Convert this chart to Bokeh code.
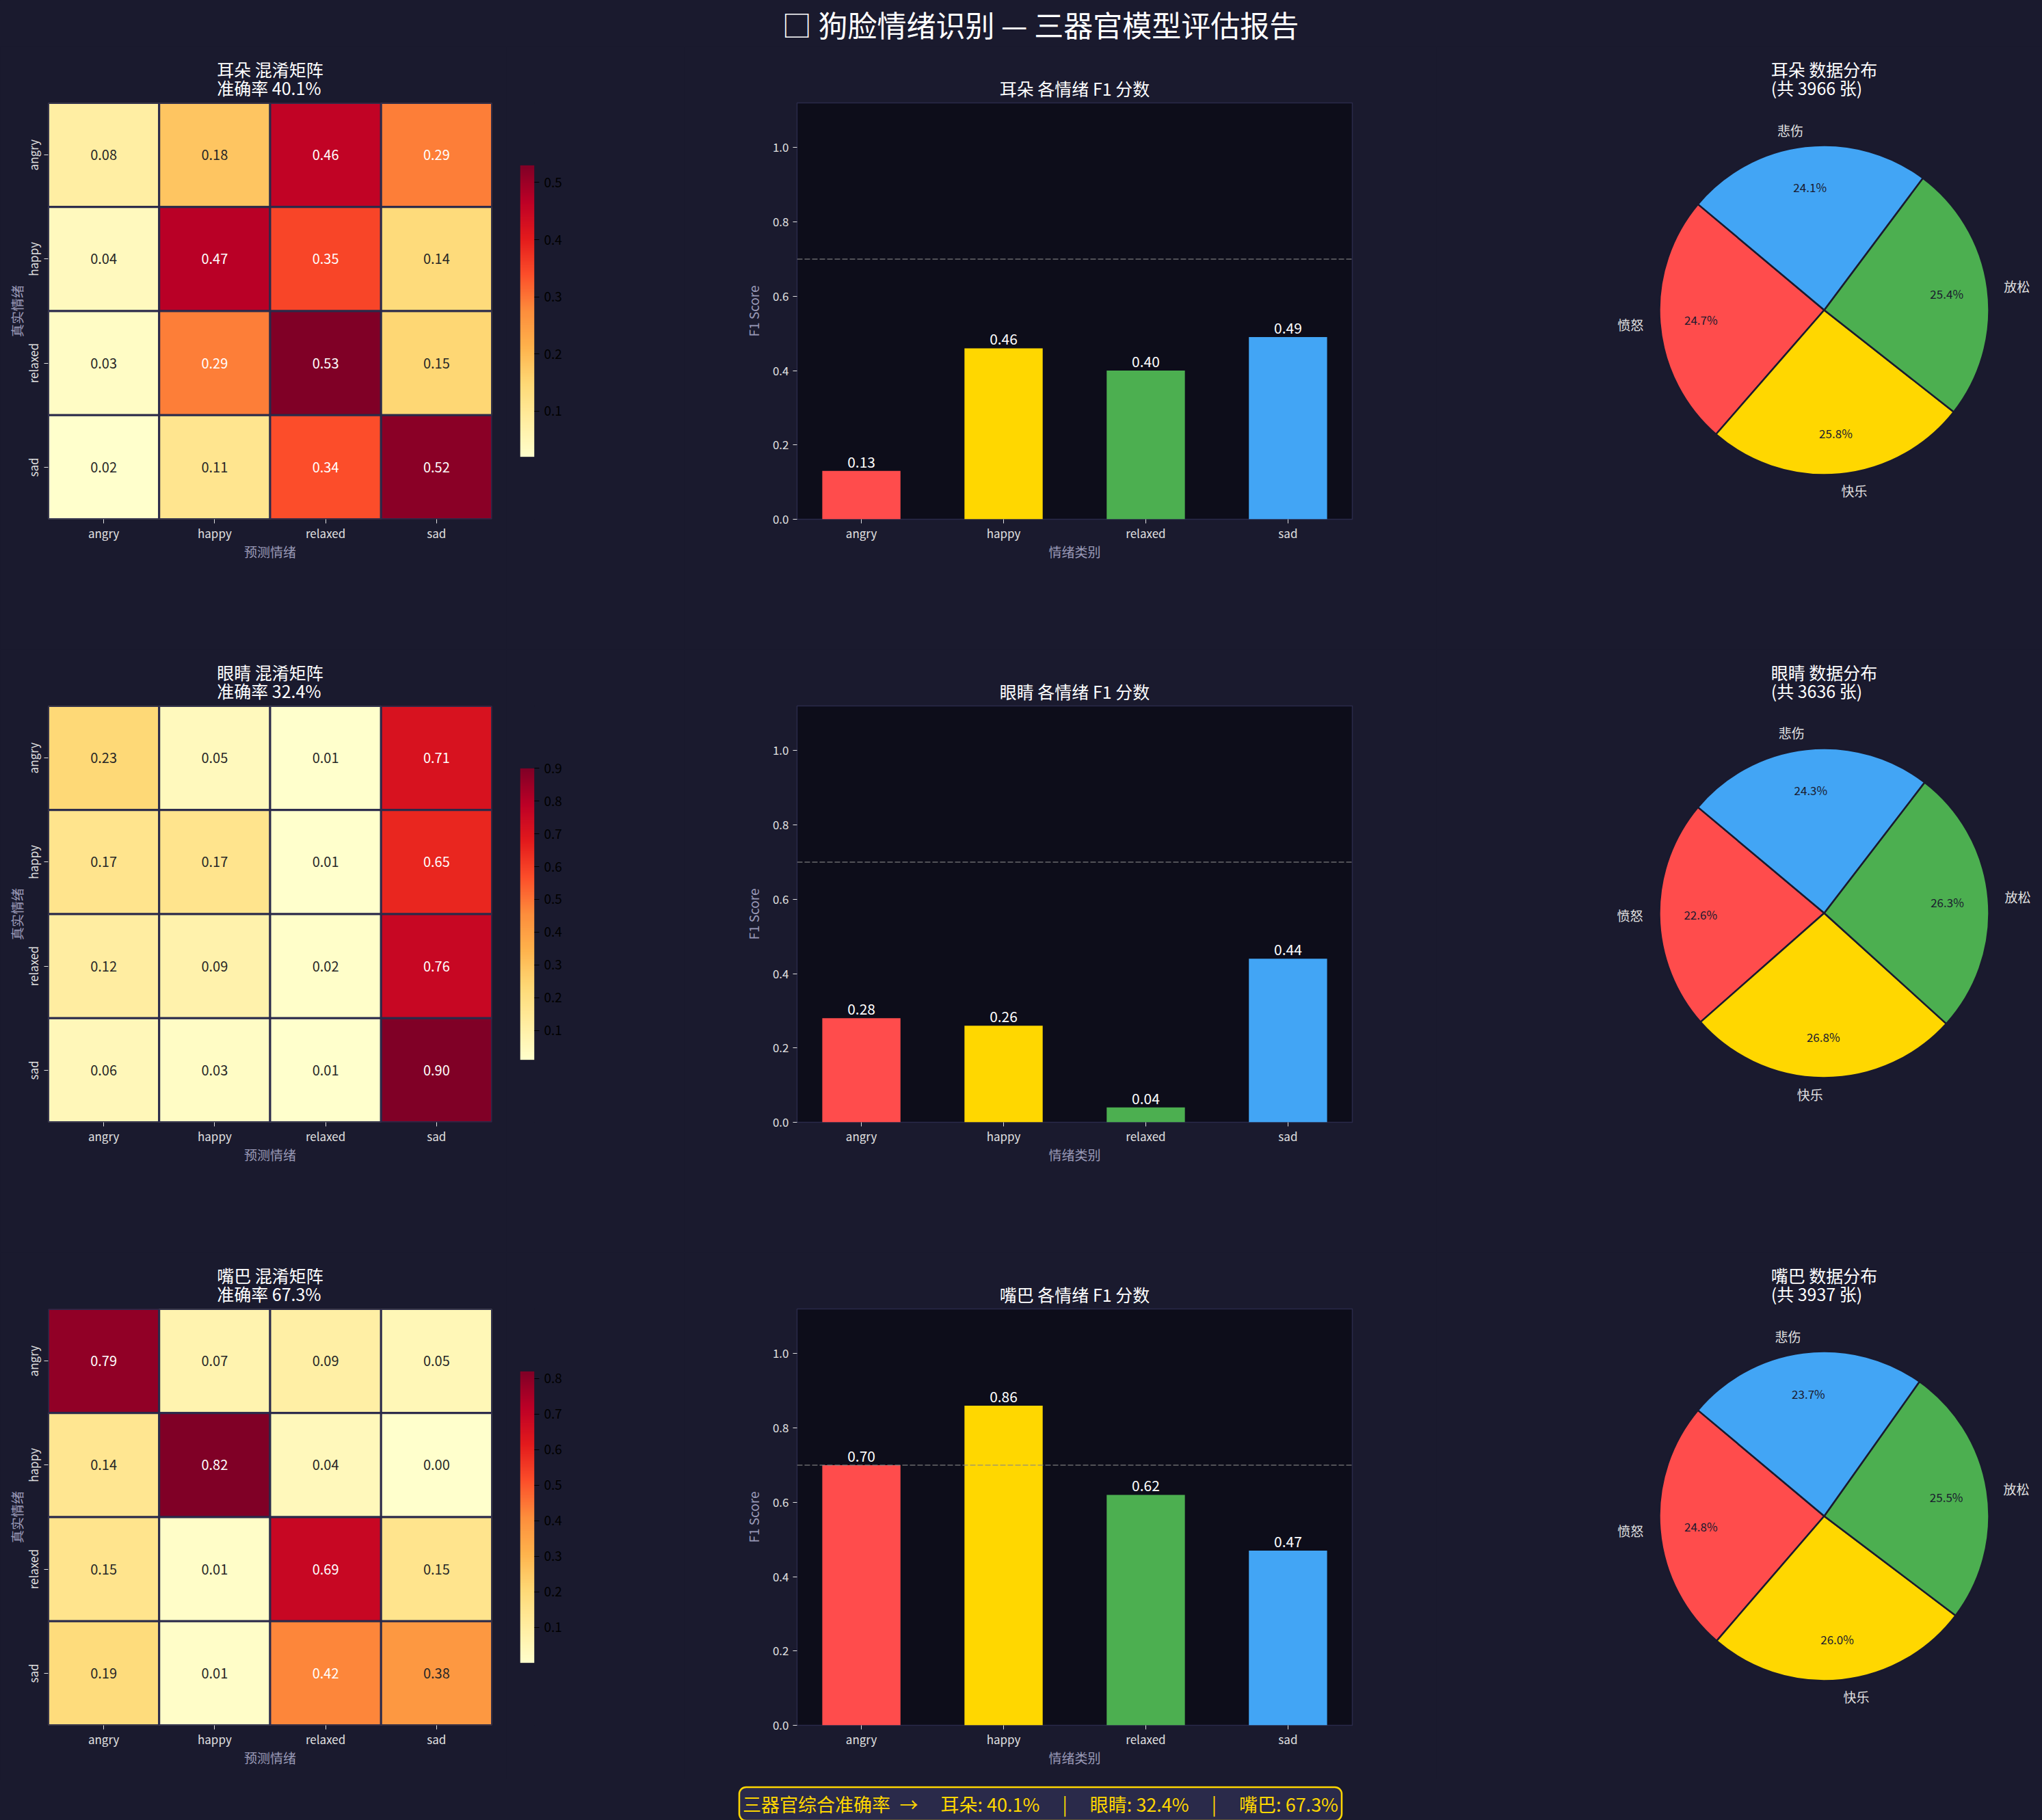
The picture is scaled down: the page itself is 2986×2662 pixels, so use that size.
import numpy as np
from bokeh.plotting import figure
from bokeh.layouts import column, row
from bokeh.models import (FactorRange, Range1d, LinearColorMapper, ColumnDataSource,
                          FixedTicker, PrintfTickFormatter, Span, Label)
from bokeh.core.properties import value
from bokeh.embed import file_html
from bokeh.resources import INLINE

FONT = "Noto Sans CJK SC"
BG = "#1a1a2e"
AX_BG = "#0d0d1a"
EDGE = "#2a2a4a"
TICK = "#e0e0e0"
MUTED = "#9a9ab8"

# ---- data -------------------------------------------------------------
emotions = ["angry", "happy", "relaxed", "sad"]
emotions_cn = ["愤怒", "快乐", "放松", "悲伤"]
emotion_colors = ["#FF4C4C", "#FFD700", "#4CAF50", "#42A5F5"]
organs = ["耳朵", "眼睛", "嘴巴"]
accuracy = [40.1, 32.4, 67.3]

# normalised confusion matrices (rows = true, cols = predicted)
cm_ear = [[0.08, 0.18, 0.46, 0.29],
          [0.04, 0.47, 0.35, 0.14],
          [0.03, 0.29, 0.53, 0.15],
          [0.02, 0.11, 0.34, 0.52]]
cm_eye = [[0.23, 0.05, 0.01, 0.71],
          [0.17, 0.17, 0.01, 0.65],
          [0.12, 0.09, 0.02, 0.76],
          [0.06, 0.03, 0.01, 0.90]]
cm_mouth = [[0.79, 0.07, 0.09, 0.05],
            [0.14, 0.82, 0.04, 0.00],
            [0.15, 0.01, 0.69, 0.15],
            [0.19, 0.01, 0.42, 0.38]]

f1_ear = [0.13, 0.46, 0.40, 0.49]
f1_eye = [0.28, 0.26, 0.04, 0.44]
f1_mouth = [0.70, 0.86, 0.62, 0.47]

count_ear = [980, 1023, 1007, 956]
count_eye = [822, 974, 956, 884]
count_mouth = [976, 1024, 1004, 933]

f1_threshold = 0.7

# ---- YlOrRd colour ramp -------------------------------------------------
YLORRD9 = ["#ffffcc", "#ffeda0", "#fed976", "#feb24c", "#fd8d3c",
           "#fc4e2a", "#e31a1c", "#bd0026", "#800026"]


def _rgb(h):
    h = h.lstrip("#")
    return [int(h[i:i + 2], 16) for i in (0, 2, 4)]


_anchors = np.array([_rgb(c) for c in YLORRD9], dtype=float)
_t = np.linspace(0, 1, 256)
_pos = np.linspace(0, 1, len(YLORRD9))
_ramp = np.stack([np.interp(_t, _pos, _anchors[:, k]) for k in range(3)], axis=1)
PALETTE = ["#%02x%02x%02x" % tuple(int(round(c)) for c in rgb) for rgb in _ramp]


def _lum(rgb):
    c = np.asarray(rgb, dtype=float) / 255.0
    c = np.where(c <= 0.03928, c / 12.92, ((c + 0.055) / 1.055) ** 2.4)
    return 0.2126 * c[0] + 0.7152 * c[1] + 0.0722 * c[2]


def style_common(p):
    p.background_fill_color = BG
    p.border_fill_color = BG
    p.outline_line_color = None
    p.xgrid.visible = False
    p.ygrid.visible = False


def style_title(p, text):
    p.title.text = text
    p.title.align = "center"
    p.title.text_color = "white"
    p.title.text_font = FONT
    p.title.text_font_size = "25px"
    p.title.text_font_style = "normal"
    p.title.text_line_height = 0.76
    p.title.standoff = 8


def style_axis(ax):
    ax.axis_line_color = None
    ax.major_tick_out = 6
    ax.major_tick_in = 0
    ax.major_tick_line_color = TICK
    ax.minor_tick_line_color = None
    ax.major_label_text_color = TICK
    ax.major_label_text_font = FONT
    ax.major_label_text_font_size = "17px"
    ax.axis_label_text_color = MUTED
    ax.axis_label_text_font = FONT
    ax.axis_label_text_font_size = "19px"
    ax.axis_label_text_font_style = "normal"


FRAME_TOP = 82
FRAME_H = 609


def heatmap(organ, acc, cm, height):
    cm = np.asarray(cm, dtype=float)
    lo, hi = cm.min(), cm.max()
    mapper = LinearColorMapper(palette=PALETTE, low=lo, high=hi)
    pred, true, vals, labels, tcol = [], [], [], [], []
    for i, t in enumerate(emotions):
        for j, pr in enumerate(emotions):
            v = cm[i, j]
            k = int(np.clip((v - lo) / (hi - lo) * 256, 0, 255))
            pred.append(pr)
            true.append(t)
            vals.append(v)
            labels.append(f"{v:.2f}")
            tcol.append("#262626" if _lum(_ramp[k]) > 0.408 else "#ffffff")
    src = ColumnDataSource(dict(pred=pred, true=true, v=vals, label=labels, tc=tcol))
    p = figure(width=740, height=height,
               x_range=FactorRange(*emotions), y_range=FactorRange(*emotions[::-1]),
               min_border_left=70, min_border_right=21, min_border_top=FRAME_TOP,
               min_border_bottom=height - FRAME_TOP - FRAME_H,
               toolbar_location=None, output_backend="svg")
    style_common(p)
    style_title(p, f"{organ} 混淆矩阵\n准确率 {acc}%")
    p.rect(x="pred", y="true", width=1, height=1, source=src,
           fill_color={"field": "v", "transform": mapper},
           line_color=EDGE, line_width=3)
    p.text(x="pred", y="true", text="label", source=src, text_color="tc",
           text_align="center", text_baseline="middle",
           text_font=value(FONT), text_font_size="20px")
    style_axis(p.xaxis)
    style_axis(p.yaxis)
    p.xaxis.axis_label = "预测情绪"
    p.yaxis.axis_label = "真实情绪"
    p.xaxis.major_label_standoff = 1
    p.xaxis.axis_label_standoff = -2
    p.yaxis.major_label_orientation = "vertical"
    p.yaxis.major_label_standoff = 4
    p.yaxis.axis_label_standoff = -5
    return p


def colorbar(cm, height):
    # the gradient fills the middle 70% of a frame that lines up with the heatmap
    cm = np.asarray(cm, dtype=float)
    lo, hi = cm.min(), cm.max()
    mapper = LinearColorMapper(palette=PALETTE, low=lo, high=hi)
    shrink = 0.7
    extra = (hi - lo) * (1 - shrink) / 2 / shrink
    p = figure(width=260, height=height, x_range=Range1d(0, 1),
               y_range=Range1d(lo - extra, hi + extra),
               x_axis_location=None, y_axis_location="right",
               min_border_left=20, min_border_right=219, min_border_top=FRAME_TOP,
               min_border_bottom=height - FRAME_TOP - FRAME_H,
               toolbar_location=None, output_backend="svg")
    style_common(p)
    p.image(image=[np.linspace(lo, hi, 256).reshape(256, 1)], x=0, y=lo, dw=1, dh=hi - lo,
            color_mapper=mapper)
    ticks = [round(0.1 * k, 1) for k in range(1, 10) if lo <= 0.1 * k <= hi + 1e-9]
    ax = p.yaxis
    ax.ticker = FixedTicker(ticks=ticks)
    ax.formatter = PrintfTickFormatter(format="%.1f")
    ax.axis_line_color = None
    ax.major_tick_out = 7
    ax.major_tick_in = 0
    ax.major_tick_line_color = "#000000"
    ax.minor_tick_line_color = None
    ax.major_label_text_color = "#000000"
    ax.major_label_text_font = FONT
    ax.major_label_text_font_size = "19px"
    ax.major_label_standoff = 7
    return p


def f1_bars(organ, f1, height):
    n = len(emotions)
    width = 0.55
    pad = 0.05 * (n - 1 + width)
    idx = list(range(n))
    src = ColumnDataSource(dict(x=idx, top=f1, color=emotion_colors,
                                label=[f"{v:.2f}" for v in f1]))
    p = figure(width=1100, height=height,
               x_range=Range1d(-width / 2 - pad, n - 1 + width / 2 + pad),
               y_range=Range1d(0, 1.12),
               min_border_left=165, min_border_right=123, min_border_top=FRAME_TOP,
               min_border_bottom=height - FRAME_TOP - FRAME_H,
               toolbar_location=None, output_backend="svg")
    style_common(p)
    p.background_fill_color = AX_BG
    p.outline_line_color = EDGE
    p.outline_line_width = 1.5
    style_title(p, f"{organ} 各情绪 F1 分数")
    p.vbar(x="x", top="top", width=width, source=src, fill_color="color", line_color=None)
    p.text(x="x", y="top", text="label", source=src, text_color="white",
           text_align="center", text_baseline="bottom", y_offset=-5,
           text_font=value(FONT), text_font_size="21px")
    p.add_layout(Span(location=f1_threshold, dimension="width", line_color="#888888",
                      line_alpha=0.75, line_dash="8 3", line_width=1.5))
    p.xaxis.ticker = FixedTicker(ticks=idx)
    p.xaxis.major_label_overrides = {i: e for i, e in enumerate(emotions)}
    p.yaxis.ticker = FixedTicker(ticks=[0.0, 0.2, 0.4, 0.6, 0.8, 1.0])
    p.yaxis.formatter = PrintfTickFormatter(format="%.1f")
    style_axis(p.xaxis)
    style_axis(p.yaxis)
    p.xaxis.axis_label = "情绪类别"
    p.yaxis.axis_label = "F1 Score"
    p.xaxis.major_label_standoff = 1
    p.xaxis.axis_label_standoff = -2
    p.yaxis.major_label_standoff = 6
    p.yaxis.axis_label_standoff = 12
    return p


def pie(organ, counts, height):
    R = 241.0
    fw = 638
    cy = 303
    counts = np.asarray(counts, dtype=float)
    frac = counts / counts.sum()
    start = np.deg2rad(140) + np.concatenate([[0], np.cumsum(frac)[:-1]]) * 2 * np.pi
    end = start + frac * 2 * np.pi
    mid = (start + end) / 2
    p = figure(width=886, height=height,
               x_range=Range1d(-fw / 2 / R, fw / 2 / R),
               y_range=Range1d(-(FRAME_H - cy) / R, cy / R),
               x_axis_location=None, y_axis_location=None,
               min_border_left=886 - fw, min_border_right=0, min_border_top=FRAME_TOP,
               min_border_bottom=height - FRAME_TOP - FRAME_H,
               toolbar_location=None, output_backend="svg")
    style_common(p)
    style_title(p, f"{organ} 数据分布\n(共 {int(counts.sum())} 张)")
    src = ColumnDataSource(dict(start=start, end=end, color=emotion_colors))
    p.wedge(x=0, y=0, radius=1, start_angle="start", end_angle="end", source=src,
            fill_color="color", line_color=BG, line_width=2.5)
    pct = ColumnDataSource(dict(x=0.75 * np.cos(mid), y=0.75 * np.sin(mid),
                                t=[f"{100 * f:.1f}%" for f in frac]))
    p.text(x="x", y="y", text="t", source=pct, text_color=BG,
           text_align="center", text_baseline="middle",
           text_font=value(FONT), text_font_size="17px")
    lx = 1.1 * np.cos(mid)
    lab = ColumnDataSource(dict(x=lx, y=1.1 * np.sin(mid), t=emotions_cn,
                                a=["left" if v > 0 else "right" for v in lx]))
    p.text(x="x", y="y", text="t", source=lab, text_color=TICK,
           text_align="a", text_baseline="middle",
           text_font=value(FONT), text_font_size="19px")
    return p


def strip(width, height):
    p = figure(width=width, height=height, x_range=Range1d(0, width), y_range=Range1d(0, height),
               x_axis_location=None, y_axis_location=None, min_border=0,
               toolbar_location=None, output_backend="svg")
    style_common(p)
    return p


# ---- assemble ----------------------------------------------------------
header = strip(2986, 68)
header.add_layout(Label(x=1521, y=34, text="□ 狗脸情绪识别 — 三器官模型评估报告",
                        text_align="center", text_baseline="middle",
                        text_color="white", text_font=FONT, text_font_size="43px"))

cms = [cm_ear, cm_eye, cm_mouth]
f1s = [f1_ear, f1_eye, f1_mouth]
counts = [count_ear, count_eye, count_mouth]
row_heights = [882, 882, 770]

rows = []
for k in range(3):
    h = row_heights[k]
    rows.append(row(heatmap(organs[k], accuracy[k], cms[k], h),
                    colorbar(cms[k], h),
                    f1_bars(organs[k], f1s[k], h),
                    pie(organs[k], counts[k], h), spacing=0))

# wide gaps in the summary line use ideographic / no-break spaces so they survive in SVG
GAP = "\u3000\u00a0"
summary = ("三器官综合准确率\u2002→" + GAP
           + (GAP + "|" + GAP).join(f"{o}:\u00a0{a}%" for o, a in zip(organs, accuracy)))
footer = strip(2986, 60)
footer.add_layout(Label(x=1521, y=24, text=summary, text_align="center", text_baseline="middle",
                        text_color="#FFD700", text_font=FONT, text_font_size="27px",
                        background_fill_color="#2a2a4a", border_line_color="#FFD700",
                        border_line_width=2.5, padding=5, border_radius=10))

layout = column(header, *rows, footer, spacing=0)

html = file_html(layout, INLINE, title="狗脸情绪识别")
html = html.replace("</head>",
                    "<style>html, body { margin: 0; padding: 0; background: #1a1a2e; }</style>\n</head>", 1)
with open("out.html", "w") as f:
    f.write(html)
